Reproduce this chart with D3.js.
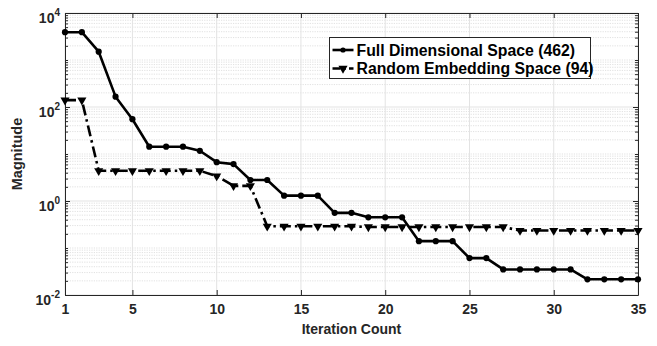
<!DOCTYPE html>
<html><head><meta charset="utf-8">
<script src="https://cdn.jsdelivr.net/npm/d3@7/dist/d3.min.js"></script>
<style>
html,body{margin:0;padding:0;background:#fff;}
svg{display:block;font-family:"Liberation Sans",Arial,Helvetica,sans-serif;font-weight:bold;}
</style></head>
<body><svg id="chart" width="657" height="346"></svg>
<script>
const iterations = [1,2,3,4,5,6,7,8,9,10,11,12,13,14,15,16,17,18,19,20,21,22,23,24,25,26,27,28,29,30,31,32,33,34,35];
const fullSpace = [3900,3900,1500,166,55,14.3,14.3,14.3,11.7,6.7,6.1,2.8,2.8,1.3,1.3,1.3,0.56,0.56,0.45,0.45,0.45,0.14,0.14,0.14,0.061,0.061,0.035,0.035,0.035,0.035,0.035,0.0216,0.0216,0.0216,0.0216];
const randomSpace = [140,140,4.4,4.4,4.4,4.4,4.4,4.4,4.4,3.4,2.1,2.1,0.29,0.29,0.29,0.29,0.29,0.29,0.28,0.28,0.28,0.28,0.28,0.28,0.28,0.28,0.28,0.235,0.235,0.235,0.235,0.235,0.235,0.235,0.235];
const seriesNames = ["Full Dimensional Space (462)","Random Embedding Space (94)"];
const xTicks = [1,5,10,15,20,25,30,35];
const yTicks = [1e-2,1e0,1e2,1e4];
const yTickExponents = ["-2","0","2","4"];
const xLabel = "Iteration Count";
const yLabel = "Magnitude";

const W=657,H=346;
const m={left:65,right:19,top:13,bottom:51};
const pw=W-m.left-m.right, ph=H-m.top-m.bottom;
const svg=d3.select("#chart");
const g=svg.append("g").attr("transform",`translate(${m.left},${m.top})`);
const x=d3.scaleLinear().domain([1,35]).range([0,pw]);
const y=d3.scaleLog().domain([1e-2,1e4]).range([ph,0]);

// minor values
const minorVals=[];
for(let k=-2;k<4;k++){for(let mm=1;mm<10;mm++){const v=mm*Math.pow(10,k); if(!yTicks.some(t=>Math.abs(t-v)/t<1e-9)) minorVals.push(v);}}

// grid
g.append("g").selectAll("line").data(minorVals).join("line")
 .attr("x1",0).attr("x2",pw).attr("y1",d=>y(d)).attr("y2",d=>y(d))
 .attr("stroke","#d4d4d4").attr("stroke-width",0.7).attr("stroke-dasharray","1.2,1.2");
g.append("g").selectAll("line").data(yTicks).join("line")
 .attr("x1",0).attr("x2",pw).attr("y1",d=>y(d)).attr("y2",d=>y(d))
 .attr("stroke","#e3e3e3").attr("stroke-width",1);
g.append("g").selectAll("line").data(xTicks).join("line")
 .attr("y1",0).attr("y2",ph).attr("x1",d=>x(d)).attr("x2",d=>x(d))
 .attr("stroke","#e3e3e3").attr("stroke-width",1);

const axColor="#262626";
function styleAxis(sel){sel.selectAll(".domain").attr("stroke",axColor).attr("stroke-width",1);sel.selectAll(".tick line").attr("stroke",axColor).attr("stroke-width",1);}

// bottom axis
const xb=g.append("g").attr("transform",`translate(0,${ph})`)
 .call(d3.axisBottom(x).tickValues(xTicks).tickSizeInner(-5).tickSizeOuter(0).tickPadding(9).tickFormat(d3.format("d")));
styleAxis(xb);
xb.selectAll("text").attr("fill",axColor).attr("font-size",14).attr("font-weight","bold").attr("font-family","Liberation Sans, Arial, sans-serif");
// top axis
const xt=g.append("g").call(d3.axisTop(x).tickValues(xTicks).tickSizeInner(-5).tickSizeOuter(0).tickFormat(""));
styleAxis(xt);
// left axis
const yl=g.append("g").call(d3.axisLeft(y).tickValues(yTicks).tickSizeInner(-5).tickSizeOuter(0).tickPadding(5).tickFormat(""));
styleAxis(yl);
yl.selectAll(".tick").each(function(d,i){
  const t=d3.select(this).select("text");
  t.text(null).attr("dy",null).attr("y",9).attr("fill",axColor).attr("font-size",14).attr("font-weight","bold").attr("font-family","Liberation Sans, Arial, sans-serif");
  t.append("tspan").text("10");
  t.append("tspan").attr("dy",-7).attr("font-size",10).text(yTickExponents[i]);
});
const ylm=g.append("g").call(d3.axisLeft(y).tickValues(minorVals).tickSizeInner(-3).tickSizeOuter(0).tickFormat(""));
styleAxis(ylm); ylm.select(".domain").remove();
// right axis
const yr=g.append("g").attr("transform",`translate(${pw},0)`).call(d3.axisRight(y).tickValues(yTicks).tickSizeInner(-5).tickSizeOuter(0).tickFormat(""));
styleAxis(yr);
const yrm=g.append("g").attr("transform",`translate(${pw},0)`).call(d3.axisRight(y).tickValues(minorVals).tickSizeInner(-3).tickSizeOuter(0).tickFormat(""));
styleAxis(yrm); yrm.select(".domain").remove();

// axis labels
svg.append("text").attr("x",m.left+pw/2).attr("y",334).attr("text-anchor","middle")
 .attr("font-size",14).attr("fill",axColor).text(xLabel);
svg.append("text").attr("transform",`translate(22,${m.top+ph/2}) rotate(-90)`).attr("text-anchor","middle")
 .attr("font-size",14.5).attr("fill",axColor).text(yLabel);

// series
const clip=g.append("g");
const line=d3.line().x((d,i)=>x(iterations[i])).y(d=>y(d));
const dashRandom="11,4,2.5,4";
clip.append("path").datum(randomSpace).attr("d",line).attr("fill","none").attr("stroke","#000").attr("stroke-width",2.6).attr("stroke-dasharray",dashRandom);
clip.append("path").datum(fullSpace).attr("d",line).attr("fill","none").attr("stroke","#000").attr("stroke-width",2.6).attr("stroke-linejoin","round");
const tri=d3.symbol().type(d3.symbolTriangle).size(36);
clip.append("g").selectAll("path").data(randomSpace).join("path")
 .attr("d",tri).attr("transform",(d,i)=>`translate(${x(iterations[i])},${y(d)}) rotate(180)`).attr("fill","#000");
clip.append("g").selectAll("circle").data(fullSpace).join("circle")
 .attr("cx",(d,i)=>x(iterations[i])).attr("cy",d=>y(d)).attr("r",3.1).attr("fill","#000");

// legend
const lg=svg.append("g").attr("transform","translate(329.5,37.5)");
lg.append("rect").attr("width",261).attr("height",41).attr("fill","#fff").attr("stroke","#262626").attr("stroke-width",1);
const rows=[12.5,31];
lg.append("line").attr("x1",3).attr("x2",24).attr("y1",rows[0]).attr("y2",rows[0]).attr("stroke","#000").attr("stroke-width",2.6);
lg.append("circle").attr("cx",13.5).attr("cy",rows[0]).attr("r",2.6).attr("fill","#000");
lg.append("line").attr("x1",3).attr("x2",24).attr("y1",rows[1]).attr("y2",rows[1]).attr("stroke","#000").attr("stroke-width",2.6).attr("stroke-dasharray","8,3,2.5,3");
lg.append("path").attr("d",tri).attr("transform",`translate(13.5,${rows[1]}) rotate(180)`).attr("fill","#000");
lg.selectAll("text").data(seriesNames).join("text").attr("x",27).attr("y",(d,i)=>rows[i]+5.7)
 .attr("font-size",15.8).attr("fill","#000").text(d=>d);
</script></body></html>
